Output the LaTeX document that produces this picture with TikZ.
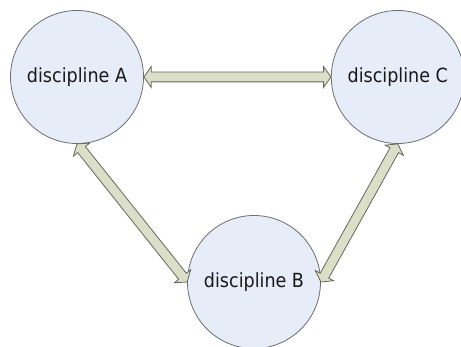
\documentclass[tikz,border=0pt]{standalone}
\usepackage{fontspec}
\setmainfont{DejaVu Sans Condensed}
\usetikzlibrary{positioning}
\usetikzlibrary{calc}
\usetikzlibrary{shapes.arrows}

\definecolor{discfill}{HTML}{E6ECF8}
\definecolor{discline}{HTML}{6E6E6E}
\definecolor{linkfill}{HTML}{DCDFC8}
\definecolor{linkline}{HTML}{66665C}

\tikzset{
  disc/.style={circle, draw=discline, fill=discfill, line width=0.8pt,
    minimum size=133pt, inner sep=0pt, text=black!90,
    font=\fontsize{19.5pt}{22pt}\selectfont},
  link/.style={double arrow, draw=linkline, fill=linkfill, line width=0.8pt,
    inner xsep=0pt, inner ysep=4.5pt, double arrow head extend=5.5pt,
    double arrow tip angle=110}
}

\newcommand\linkarrow[2]{%
  \path let \p1 = ($(#2)-(#1)$), \n1 = {veclen(\x1,\y1)}, \n2 = {atan2(\y1,\x1)} in
    node[link, minimum height=\n1, rotate=\n2] at ($(#1)!0.5!(#2)$) {};}

\begin{document}
\begin{tikzpicture}

    \useasboundingbox (0,0) rectangle (461pt,-347pt);

    \node[disc] (dA) at (77pt,-77pt)    {discipline A};
    \node[disc] (dC) [right = 187pt of dA] {discipline C};
    \node[disc] (dB) at (254pt,-282pt)  {discipline B};

    \linkarrow{dA.east}{dC.west}
    \linkarrow{dA.south}{dB.west}
    \linkarrow{dC.south}{dB.east}

\end{tikzpicture}
\end{document}
